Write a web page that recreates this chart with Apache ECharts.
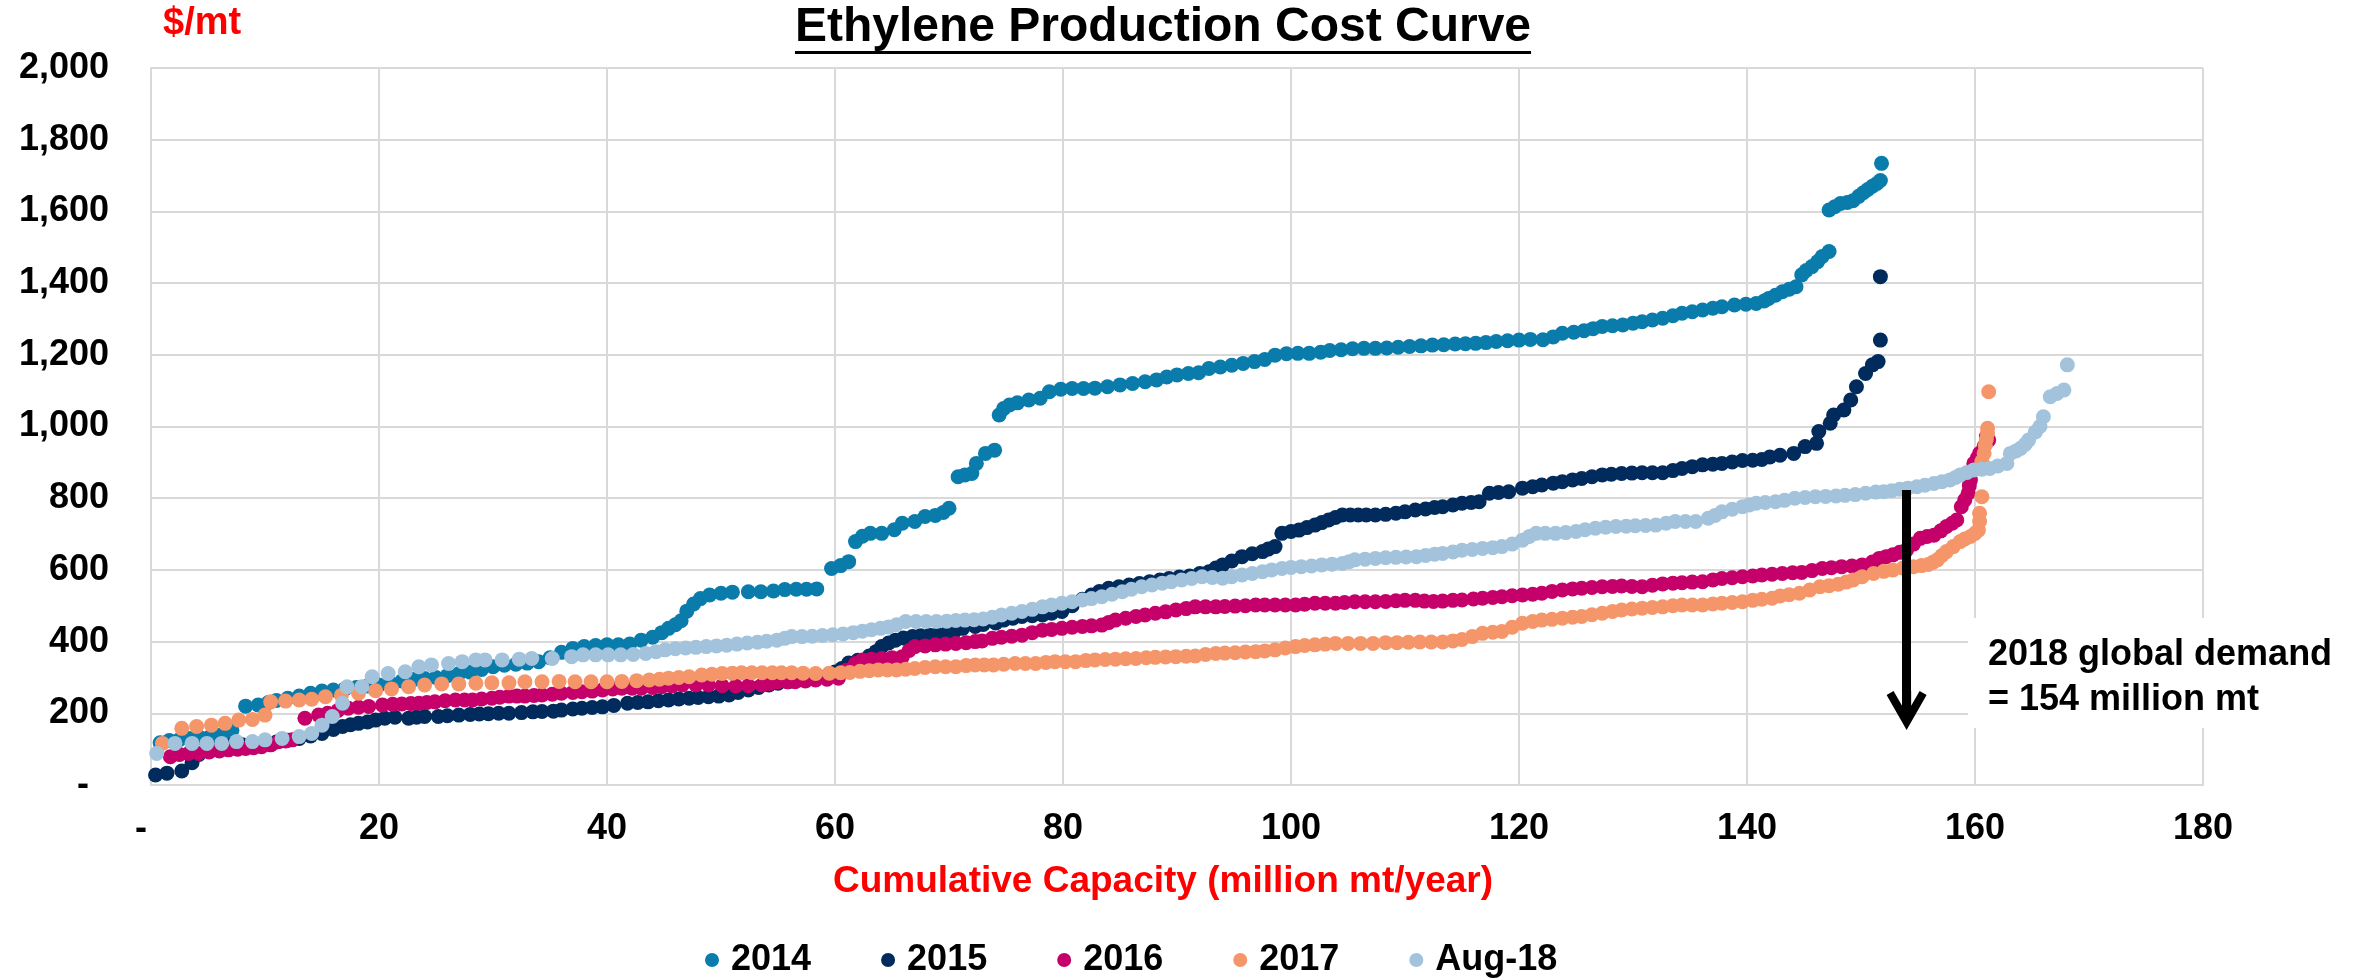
<!DOCTYPE html>
<html>
<head>
<meta charset="utf-8">
<title>Ethylene Production Cost Curve</title>
<script src="https://cdn.jsdelivr.net/npm/echarts@6/dist/echarts.min.js"></script>
<style>
  html, body { margin: 0; padding: 0; background: #fff; }
  #chart { width: 2371px; height: 980px; }
</style>
</head>
<body>
<div id="chart"></div>
<script>
// [cumulative capacity (million mt/year), cash cost ($/mt)]
const pts2014 = [
  [0.8,118],[1.6,124],[2.5,127],[3.4,130],[4.3,132],[5.2,135],[6,139],[6.6,144],[7.1,153],
  [8.3,220],[9.4,223],[10.3,230],[11,236],[12,242],[13,248],[14,256],[15,262],[16,265],[17,268],[18,272],
  [19,276],[20,279],[21,284],[22,290],[23,294],[24,297],[25,300],[26,305],[27,310],[28,315],[29,322],
  [30,330],[31,334],[32,337],[33,340],[34,344],[35,355],[36,370],[37,381],[38,386],[39,389],[40,391],
  [41,391],[42,393],[43,404],[44,412],[44.8,425],[45.4,437],[46,447],[46.5,458],[47,485],[47.6,505],
  [48.2,520],[49,530],[50,535],[51,538],[52.4,539],[53.5,539],[54.6,541],[55.6,545],[56.6,546],[57.5,546],
  [58.4,547],[59.7,604],[60.5,612],[61.2,623],[61.8,679],[62.4,694],[63.1,702],[64.1,702],[65.2,712],
  [65.9,730],[67,735],[67.9,749],[68.8,752],[69.5,760],[70,772],[70.8,860],[71.4,865],[72,869],[72.4,897],
  [73.2,925],[74,934],[74.4,1032],[74.8,1050],[75.3,1060],[76,1066],[77,1074],[78,1079],[78.8,1097],
  [79.8,1104],[80.8,1106],[81.8,1106],[82.8,1107],[83.9,1111],[85,1116],[86.1,1120],[87.2,1125],[88.2,1130],
  [89.1,1138],[90,1144],[91,1148],[91.9,1150],[92.8,1162],[93.8,1166],[94.8,1171],[95.8,1176],[96.8,1181],
  [97.7,1187],[98.6,1199],[99.6,1203],[100.6,1204],[101.6,1204],[102.6,1207],[103.4,1212],[104.4,1214],
  [105.4,1217],[106.4,1218],[107.4,1218],[108.4,1219],[109.4,1221],[110.4,1223],[111.4,1225],[112.4,1227],
  [113.4,1228],[114.4,1230],[115.3,1231],[116.2,1232],[117.1,1234],[118,1237],[119,1239],[120,1241],
  [121,1243],[122.1,1242],[123,1250],[123.8,1260],[124.8,1263],[125.7,1267],[126.5,1273],[127.3,1279],
  [128.2,1281],[129.1,1283],[130,1288],[130.8,1292],[131.7,1297],[132.6,1302],[133.5,1309],[134.3,1316],
  [135.2,1320],[136.1,1325],[137,1330],[137.8,1334],[138.9,1339],[139.9,1341],[140.8,1343],[141.5,1350],
  [141.9,1357],[142.5,1366],[143.1,1376],[143.7,1383],[144.3,1390],[144.8,1423],[145.2,1435],[145.7,1446],
  [146.2,1460],[146.6,1474],[147.2,1488],[147.2,1604],[147.7,1613],[148.2,1622],[148.8,1625],[149.3,1630],
  [149.8,1642],[150.2,1652],[150.6,1661],[151,1670],[151.4,1678],[151.7,1686],[151.8,1734]
];
const pts2015 = [
  [0.4,28],[1.4,33],[2.7,39],[3.6,62],[4.2,85],[5,100],[6,105],[7,110],[8,112],[9,115],[10,118],[11,120],
  [12,125],[13,130],[14,137],[15,144],[16,155],[16.8,163],[17.5,168],[18.2,172],[19,176],[19.7,181],
  [20.5,186],[21.4,189],[22.6,186],[23.3,189],[24,191],[25.2,191],[26,193],[27,195],[28,197],[28.8,198],
  [29.6,199],[30.5,200],[31.4,200],[32.5,202],[33.5,204],[34.3,205],[35.3,206],[36,209],[37,212],[37.8,214],
  [38.7,216],[39.6,218],[40.6,222],[41.8,228],[42.7,230],[43.6,232],[44.5,235],[45.4,237],[46.3,240],
  [47.2,242],[48,244],[48.9,246],[49.8,248],[50.7,251],[51.5,258],[52.4,265],[53.3,272],[54.2,279],[55,284],
  [55.9,288],[56.8,293],[57.7,298],[58.6,302],[59.5,307],[60,315],[60.6,325],[61.2,340],[62,348],[63,360],
  [63.6,372],[64.1,386],[64.7,396],[65.3,404],[66,410],[66.8,414],[67.5,416],[68.3,418],[69,420],[69.8,423],
  [70.5,430],[71.2,437],[72.3,442],[73,448],[74.1,452],[74.8,460],[75.6,465],[76.4,470],[77.3,472],
  [78.2,474],[79,479],[79.9,484],[80.8,500],[81.7,518],[82.5,530],[83.2,540],[84,549],[84.9,553],[85.8,558],
  [86.7,562],[87.6,567],[88.5,572],[89.3,576],[90.2,580],[91.1,583],[92,590],[92.8,595],[93.4,605],[94,614],
  [94.8,625],[95.7,637],[96.6,645],[97.5,651],[98,658],[98.6,665],[99.2,702],[100,707],[100.7,711],
  [101.4,718],[102.1,725],[102.7,732],[103.3,739],[103.9,746],[104.5,753],[105.2,753],[105.9,753],
  [106.6,753],[107.4,753],[108.3,755],[109.2,758],[110,762],[110.9,767],[111.8,770],[112.6,774],[113.3,776],
  [114.2,781],[115,786],[115.8,788],[116.5,790],[117.4,814],[118.2,816],[119.1,818],[120.3,828],[121.2,832],
  [122,837],[123,842],[123.8,846],[124.7,851],[125.5,855],[126.4,860],[127.3,865],[128.1,867],[129,869],
  [129.9,870],[130.8,871],[131.7,871],[132.6,871],[133.5,877],[134.3,883],[135.2,888],[136.1,893],[137,895],
  [137.8,897],[138.7,901],[139.6,905],[140.5,906],[141.3,908],[142,915],[142.9,920],[144.1,925],[145.1,944],
  [146.1,953],[146.3,986],[147.3,1009],[147.6,1032],[148.5,1046],[149.1,1074],[149.6,1111],[150.4,1148],
  [151,1172],[151.5,1181],[151.7,1241],[151.7,1418]
];
const pts2016 = [
  [1.7,79],[2.5,85],[3.3,88],[4.2,88],[5.1,92],[6,95],[6.8,98],[7.6,100],[8.3,102],[9,104],[9.7,107],
  [10.5,112],[11.2,121],[11.8,123],[12.4,126],[13.5,186],[14.7,195],[15.5,200],[16.4,208],[17.3,214],
  [18.2,217],[19.1,219],[20.3,223],[21.2,225],[22,226],[22.8,227],[23.5,228],[24.2,230],[24.9,232],
  [25.8,235],[26.7,237],[27.5,237],[28.2,237],[29,240],[29.9,242],[30.6,245],[31.4,248],[32.1,248],
  [32.8,248],[33.6,250],[34.3,251],[35.2,253],[36,256],[37,258],[37.8,260],[38.7,262],[39.6,265],[40.5,268],
  [41.3,270],[42.2,270],[43,270],[44,272],[44.8,274],[45.7,276],[46.6,279],[47.8,279],[48.9,279],[50.1,277],
  [51.3,276],[52.4,277],[53.6,279],[54.3,283],[55,288],[55.8,288],[56.5,288],[57.4,290],[58.3,293],
  [59.3,295],[60.3,298],[61,320],[61.8,339],[62.4,349],[63.2,351],[64.1,353],[65,355],[65.9,358],[66.5,375],
  [67,386],[67.9,388],[68.8,391],[69.7,393],[70.6,395],[71.5,397],[72.3,400],[72.9,402],[73.8,409],
  [74.6,412],[75.5,415],[76.4,418],[77.3,425],[78.2,432],[79,434],[79.9,437],[80.8,440],[81.7,442],
  [82.5,444],[83.4,446],[84,453],[84.6,460],[85.5,465],[86.4,470],[87.2,474],[88.1,479],[89,483],[89.9,488],
  [90.8,492],[91.6,497],[92.5,497],[93.4,497],[94.2,498],[95.1,499],[96,500],[96.9,502],[97.7,502],
  [98.6,502],[99.5,502],[100.4,502],[101.2,504],[102.1,507],[103,507],[103.9,507],[104.7,509],[105.6,511],
  [106.5,511],[107.4,511],[108.3,512],[109.2,514],[110,515],[110.9,515],[111.7,513],[112.5,512],[113.3,513],
  [114.2,515],[115,516],[116,519],[116.8,521],[117.7,523],[118.5,525],[119.4,528],[120.3,530],[121.2,532],
  [122,535],[122.9,540],[123.8,544],[124.7,547],[125.5,549],[126.4,551],[127.3,553],[128.2,554],[129,555],
  [129.9,554],[130.8,553],[131.7,557],[132.6,561],[133.5,563],[134.3,564],[135.2,566],[136.1,567],[137,572],
  [137.8,576],[138.7,578],[139.6,581],[140.5,583],[141.3,586],[142.2,588],[143.1,590],[144,592],[144.8,593],
  [145.7,598],[146.6,604],[147.4,606],[148.3,609],[149.2,611],[150.1,614],[151,622],[151.6,632],[152.2,637],
  [152.8,642],[153.4,649],[154,656],[154.6,672],[155.2,688],[155.8,693],[156.4,697],[157,709],[157.5,721],
  [158,730],[158.4,739],[158.8,776],[159.1,795],[159.4,814],[159.5,835],[159.6,851],[159.8,880],[159.9,897],
  [160.2,912],[160.4,925],[160.8,945],[161.2,962],[161,972]
];
const pts2017 = [
  [1,116],[2.7,158],[4,163],[5.3,167],[6.5,172],[7.7,181],[8.9,183],[10,195],[10.5,232],[11.8,234],[13,237],
  [14.1,239],[15.3,246],[16.7,250],[18.2,256],[19.7,263],[21.1,268],[22.6,274],[24,279],[25.5,282],[27,282],
  [28.5,284],[29.9,285],[31.4,285],[32.8,288],[34.3,288],[35.8,289],[37.2,288],[38.6,288],[40,288],
  [41.3,289],[42.6,291],[43.7,293],[44.6,295],[45.4,298],[46.3,300],[47.2,302],[48.3,307],[49.2,309],
  [50.1,311],[51,312],[51.8,313],[52.7,313],[53.6,313],[54.5,313],[55.3,313],[56.2,313],[57.2,312],
  [58.3,311],[59.5,312],[60.5,313],[61.3,314],[62.2,317],[63,319],[63.8,321],[64.6,321],[65.4,321],
  [66.2,323],[67,325],[67.9,328],[68.8,330],[69.7,330],[70.6,330],[71.5,333],[72.3,335],[73.1,335],
  [73.9,335],[74.8,337],[75.8,339],[76.7,339],[77.6,339],[78.5,342],[79.3,344],[80.2,344],[81.1,344],
  [82,347],[82.8,349],[83.7,350],[84.6,351],[85.5,352],[86.4,353],[87.3,355],[88.1,356],[89,357],[89.9,358],
  [90.8,359],[91.6,360],[92.5,364],[93.4,367],[94.2,368],[95.1,369],[96,371],[96.9,372],[97.7,374],
  [98.6,377],[99.5,382],[100.4,386],[101.2,389],[102.1,391],[103,393],[103.9,395],[105,395],[106.1,395],
  [107.2,395],[108.3,397],[109.3,397],[110.3,398],[111.3,399],[112.3,399],[113.3,399],[114.2,402],[115,406],
  [115.9,414],[116.8,423],[117.7,426],[118.5,428],[119.4,440],[120.3,451],[121.2,456],[122,460],[122.9,462],
  [123.8,465],[124.7,468],[125.5,470],[126.4,475],[127.3,479],[128.2,484],[129,488],[129.9,491],[130.8,493],
  [131.7,495],[132.6,497],[133.5,500],[134.3,502],[135.2,502],[136.1,502],[137,505],[137.8,507],[138.7,509],
  [139.6,511],[140.5,515],[141.3,518],[142.2,521],[142.9,527],[143.7,531],[144.6,535],[145.5,544],
  [146.4,553],[147.2,556],[148,560],[148.7,566],[149.3,572],[150.1,581],[151.1,590],[152,596],[152.8,600],
  [153.7,605],[154.6,609],[155.3,612],[155.9,615],[156.3,621],[156.7,628],[157.1,640],[157.5,651],
  [158.1,665],[158.7,679],[159.1,686],[159.6,693],[160,702],[160.3,711],[160.4,735],[160.4,758],[160.6,804],
  [160.6,902],[160.8,925],[160.9,948],[161,965],[161.1,981],[161.1,995],[161.2,1097]
];
const ptsAug18 = [
  [0.5,88],[2.1,116],[3.6,116],[4.9,116],[6.2,116],[7.5,121],[8.9,121],[10,126],[11.5,130],[13,135],
  [14.1,144],[15,167],[15.9,191],[16.8,228],[17.2,274],[18.5,274],[19.4,302],[20.8,311],[22.3,316],
  [23.5,330],[24.6,335],[26.1,339],[27.3,344],[28.5,349],[29.3,349],[30.8,349],[32.3,351],[33.4,353],
  [35.2,353],[36.9,358],[37.9,363],[39,363],[40.1,363],[41.2,363],[42.3,364],[43.4,367],[44.3,372],
  [45.1,377],[46,380],[46.9,382],[47.8,384],[48.7,386],[49.6,388],[50.5,390],[51.4,393],[52.3,396],
  [53.2,398],[54,401],[54.9,404],[55.6,409],[56.2,414],[57.1,414],[58,415],[58.9,417],[59.8,419],[60.7,421],
  [61.6,425],[62.4,429],[63.2,433],[64,437],[64.7,441],[65.4,447],[66.2,456],[67.1,456],[68,456],[68.9,456],
  [69.8,457],[70.6,459],[71.4,460],[72.2,461],[73,463],[73.8,468],[74.6,474],[75.5,479],[76.4,484],
  [77.3,490],[78.2,497],[79,502],[79.9,507],[80.8,511],[81.7,516],[82.5,520],[83.4,525],[84.3,532],
  [85.2,539],[86,546],[86.9,553],[87.8,558],[88.7,563],[89.5,567],[90.4,572],[91.3,576],[92.2,581],
  [93.1,579],[94,577],[94.8,581],[95.7,586],[96.6,590],[97.5,595],[98.3,600],[99.2,604],[100,607],
  [100.9,609],[101.8,611],[102.7,614],[103.6,616],[104.5,618],[105.1,623],[105.6,628],[106.5,630],
  [107.4,632],[108.3,634],[109.2,635],[110.1,636],[111,637],[111.8,640],[112.6,644],[113.3,646],[114.2,650],
  [115,655],[115.9,657],[116.8,660],[117.7,662],[118.5,665],[119.4,672],[120.3,683],[120.9,693],[121.5,702],
  [122.3,702],[123.2,702],[124.1,704],[125,707],[125.8,712],[126.7,716],[127.6,719],[128.5,721],[129.4,722],
  [130.2,723],[131.1,724],[132,725],[132.9,730],[133.7,735],[134.6,735],[135.5,735],[136.6,744],[137.2,752],
  [137.8,762],[138.7,769],[139.6,776],[140.2,781],[140.8,786],[141.6,788],[142.5,790],[143.3,794],
  [144.2,800],[145.1,802],[146,804],[146.9,805],[147.8,806],[148.6,808],[149.5,810],[150.4,814],[151.3,817],
  [152,818],[152.7,821],[153.4,825],[154.1,828],[154.9,832],[155.6,836],[156.4,841],[157.1,846],[157.8,851],
  [158.3,858],[158.7,865],[159.3,872],[159.9,879],[160.6,881],[161.3,883],[162,890],[162.8,897],[163.1,925],
  [163.6,932],[164,939],[164.4,950],[164.7,962],[165.3,985],[165.7,1000],[166,1027],[166.6,1083],
  [167.2,1092],[167.8,1102],[168.1,1172]
];

const seriesNames = ['2014', '2015', '2016', '2017', 'Aug-18'];
const seriesColors = ['#0a7cab', '#002b5c', '#c5006a', '#f5966a', '#a2c3db'];

// axis ranges / ticks
const xMax = 180, xStep = 20;
const yMax = 2000, yStep = 200;

// demand marker: arrow at 154 million mt
const demandCap = 154;
const demandFrom = 823;
const demandTo = 208;
const demandText = '2018 global demand\n= 154 million mt';

const titleText = 'Ethylene Production Cost Curve';
const FONT = '"Liberation Sans", Arial, sans-serif';

const chart = echarts.init(document.getElementById('chart'));

// width of the title so the underline matches it
const ctx = document.createElement('canvas').getContext('2d');
ctx.font = 'bold 48px ' + FONT;
const titleW = ctx.measureText(titleText).width;
const titleX = 1163;

// open chevron arrow head (points up, library rotates it)
const arrowHead = 'path://M19.8 0 L39.6 34.7 L32.7 38.7 L24.3 24 L24.3 38.7 L15.3 38.7 L15.3 24 L6.9 38.7 L0 34.7 Z';

const allPts = [pts2014, pts2015, pts2016, pts2017, ptsAug18];
const series = allPts.map((pts, i) => ({
  name: seriesNames[i],
  type: 'scatter',
  data: pts,
  symbol: 'circle',
  symbolSize: 15,
  itemStyle: { color: seriesColors[i], opacity: 1 },
  emphasis: { disabled: true },
  silent: true
}));

series[4].markLine = {
  silent: true,
  symbol: ['none', arrowHead],
  symbolSize: [40, 39],
  lineStyle: { color: '#000', width: 9, type: 'solid', opacity: 1 },
  label: { show: false },
  emphasis: { disabled: true },
  data: [[{ coord: [demandCap, demandFrom] }, { coord: [demandCap, demandTo] }]]
};

const labelStyle = { color: '#000', fontWeight: 'bold', fontSize: 36, fontFamily: FONT };
const gridLine = { color: '#d9d9d9', width: 2 };

chart.setOption({
  animation: false,
  backgroundColor: '#fff',
  grid: { left: 151, right: 168, top: 68, bottom: 195, outerBoundsMode: 'none' },
  legend: {
    data: seriesNames,
    left: 705,
    top: 942,
    padding: 0,
    icon: 'circle',
    itemWidth: 28,
    itemHeight: 14,
    itemGap: 70,
    selectedMode: false,
    textStyle: labelStyle
  },
  xAxis: {
    type: 'value',
    min: 0,
    max: xMax,
    interval: xStep,
    name: 'Cumulative Capacity (million mt/year)',
    nameLocation: 'middle',
    nameGap: 78,
    nameTextStyle: { color: '#ff0000', fontWeight: 'bold', fontSize: 37, fontFamily: FONT, padding: [0, 28, 0, 0] },
    axisLine: { show: true, lineStyle: gridLine },
    axisTick: { show: false },
    axisLabel: Object.assign({ margin: 26, formatter: v => v === 0 ? '-  ' : String(v) }, labelStyle),
    splitLine: { show: true, lineStyle: gridLine }
  },
  yAxis: {
    type: 'value',
    min: 0,
    max: yMax,
    interval: yStep,
    axisLine: { show: true, lineStyle: gridLine },
    axisTick: { show: false },
    axisLabel: Object.assign({ margin: 42, formatter: v => v === 0 ? '-  ' : v.toLocaleString('en-US') }, labelStyle),
    splitLine: { show: true, lineStyle: gridLine }
  },
  graphic: [
    {
      type: 'text', x: titleX, y: 28, z: 10,
      style: { text: titleText, font: 'bold 48px ' + FONT, fill: '#000', align: 'center', verticalAlign: 'middle' }
    },
    {
      type: 'rect', z: 10,
      shape: { x: titleX - titleW / 2, y: 51, width: titleW, height: 3 },
      style: { fill: '#000' }
    },
    {
      type: 'text', x: 163, y: 24, z: 10,
      style: { text: '$/mt', font: 'bold 38px ' + FONT, fill: '#ff0000', align: 'left', verticalAlign: 'middle' }
    },
    {
      type: 'rect', z: 10,
      shape: { x: 1968, y: 618, width: 403, height: 110 },
      style: { fill: '#fff' }
    },
    {
      type: 'text', x: 1988, y: 633, z: 11,
      style: { text: demandText, font: 'bold 36px ' + FONT, lineHeight: 45, fill: '#000', align: 'left', verticalAlign: 'top' }
    }
  ],
  series: series
});
</script>
</body>
</html>
